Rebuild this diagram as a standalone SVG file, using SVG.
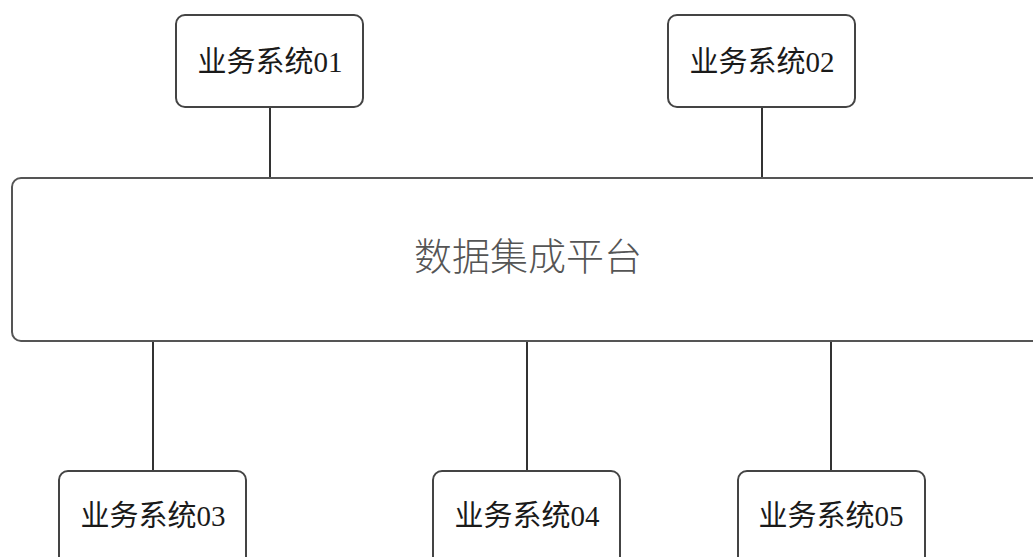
<svg xmlns="http://www.w3.org/2000/svg" width="1033" height="557" viewBox="0 0 1033 557">
<style>
.box{fill:#fff;stroke:#444;stroke-width:2}
.main{fill:#fff;stroke:#555;stroke-width:2}
.lbl{font-family:"Liberation Serif","Noto Sans CJK SC",serif;font-size:29px;fill:#1a1a1a;text-anchor:middle;dominant-baseline:central}
.mlbl{font-family:"Noto Sans CJK SC",sans-serif;font-size:38px;fill:#555;text-anchor:middle;dominant-baseline:central;font-weight:300}
.conn{stroke:#333;stroke-width:2;fill:none}
</style>
<rect width="1033" height="557" fill="#fff"/>
<g id="connectors">
<line class="conn" x1="270" y1="107" x2="270" y2="178"/>
<line class="conn" x1="762" y1="107" x2="762" y2="178"/>
<line class="conn" x1="153" y1="341" x2="153" y2="471"/>
<line class="conn" x1="527" y1="341" x2="527" y2="471"/>
<line class="conn" x1="831" y1="341" x2="831" y2="471"/>
</g>
<g id="platform">
<rect class="main" x="12" y="178" width="1040" height="163" rx="9"/>
<text class="mlbl" x="528" y="253">数据集成平台</text>
</g>
<g id="sys01">
<rect class="box" x="176" y="15" width="187" height="92" rx="9"/>
<text class="lbl" x="270" y="62">业务系统01</text>
</g>
<g id="sys02">
<rect class="box" x="668" y="15" width="187" height="92" rx="9"/>
<text class="lbl" x="762" y="62">业务系统02</text>
</g>
<g id="sys03">
<rect class="box" x="59" y="471" width="187" height="100" rx="9"/>
<text class="lbl" x="153" y="516">业务系统03</text>
</g>
<g id="sys04">
<rect class="box" x="433" y="471" width="187" height="100" rx="9"/>
<text class="lbl" x="527" y="516">业务系统04</text>
</g>
<g id="sys05">
<rect class="box" x="738" y="471" width="187" height="100" rx="9"/>
<text class="lbl" x="831" y="516">业务系统05</text>
</g>
</svg>
